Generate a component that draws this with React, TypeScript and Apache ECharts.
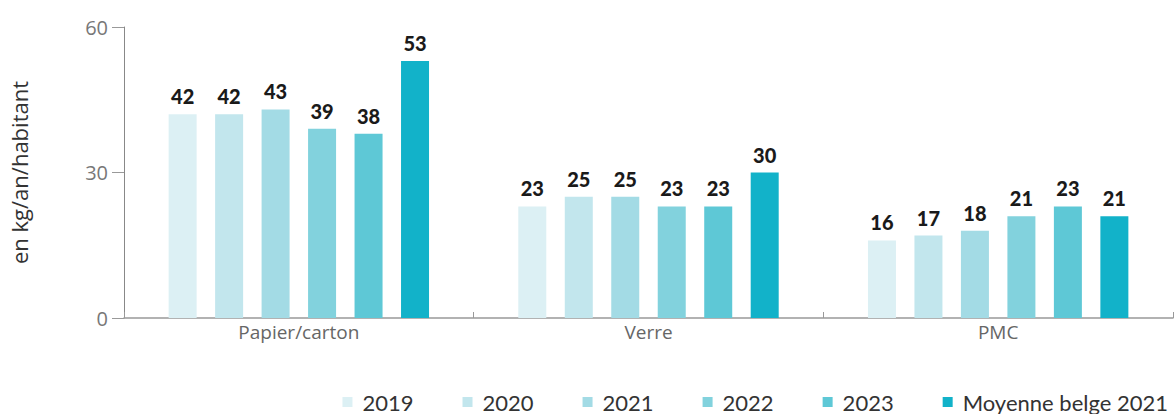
import React, { useEffect, useRef } from "react";
import * as echarts from "echarts";

const categories = ["Papier/carton", "Verre", "PMC"];
const seriesNames = ["2019", "2020", "2021", "2022", "2023", "Moyenne belge 2021"];
const values2019 = [42, 23, 16];
const values2020 = [42, 25, 17];
const values2021 = [43, 25, 18];
const values2022 = [39, 23, 21];
const values2023 = [38, 23, 23];
const valuesMoyenne = [53, 30, 21];
const colors = ["#dcf0f4", "#c2e6ed", "#a3dbe5", "#82d2dd", "#5ec8d6", "#12b2c9"];
const yTicks = [0, 30, 60];

export default function App() {
  const ref = useRef<HTMLDivElement>(null);
  useEffect(() => {
    if (!ref.current) return;
    const chart = echarts.init(ref.current, undefined, { renderer: "svg" });
    const allValues = [values2019, values2020, values2021, values2022, values2023, valuesMoyenne];
    const lato = "Lato, sans-serif";
    const open = "'Open Sans', sans-serif";
    chart.setOption({
      animation: false,
      textStyle: { fontFamily: lato },
      grid: { left: 124, right: 1, top: 27, bottom: 96, containLabel: false, outerBoundsMode: "none" },
      legend: {
        data: seriesNames,
        top: 386,
        right: 1,
        itemWidth: 10,
        itemHeight: 10,
        itemGap: 49,
        icon: "rect",
        textStyle: { fontSize: 22, color: "#333", fontFamily: lato, padding: [0, 0, 0, 5] },
      },
      xAxis: {
        type: "category",
        data: categories,
        axisLine: { lineStyle: { color: "#999", width: 1.5 } },
        axisTick: { show: true, inside: true, length: 6, lineStyle: { color: "#999" } },
        axisLabel: { color: "#666", fontSize: 19, margin: 4, fontFamily: open },
      },
      yAxis: {
        type: "value",
        min: yTicks[0],
        max: yTicks[yTicks.length - 1],
        interval: 30,
        name: "en kg/an/habitant",
        nameLocation: "middle",
        nameGap: 94,
        nameRotate: 90,
        nameTextStyle: { color: "#333", fontSize: 22, fontFamily: open },
        axisLine: { show: true, lineStyle: { color: "#888" } },
        axisTick: { show: true, length: 12, lineStyle: { color: "#999" } },
        axisLabel: { color: "#777", fontSize: 20, margin: 16, fontFamily: open },
        splitLine: { show: false },
      },
      series: seriesNames.map((name, i) => ({
        name,
        type: "bar",
        data: allValues[i],
        barWidth: 28,
        barGap: "66%",
        itemStyle: { color: colors[i] },
        label: {
          show: true,
          position: "top",
          distance: 8,
          color: "#1a1a1a",
          fontSize: 20,
          fontWeight: 900,
          fontFamily: lato,
        },
      })),
    });
    return () => chart.dispose();
  }, []);
  return (
    <div
      ref={ref}
      style={{ position: "fixed", left: 0, top: 0, width: 1174, height: 414, background: "#fff" }}
    />
  );
}
